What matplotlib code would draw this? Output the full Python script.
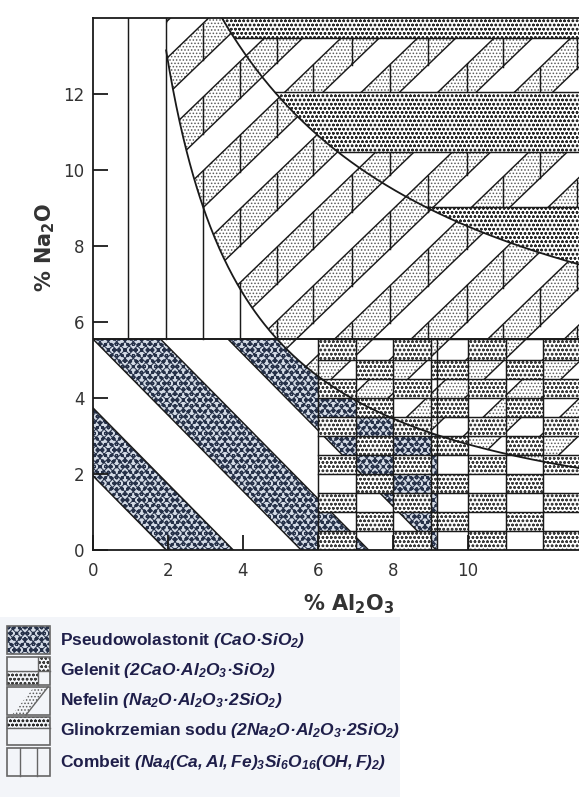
import numpy as np
import matplotlib
matplotlib.use("Agg")
import matplotlib.pyplot as plt
from matplotlib.patches import Polygon, Rectangle, PathPatch
from matplotlib.path import Path

plt.rcParams["font.family"] = ["DejaVu Sans"]
plt.rcParams["hatch.linewidth"] = 0.7
plt.rcParams["mathtext.fontset"] = "custom"
plt.rcParams["mathtext.rm"] = "Liberation Sans:bold:italic"
plt.rcParams["mathtext.it"] = "Liberation Sans:bold:italic"
plt.rcParams["mathtext.bf"] = "DejaVu Sans:bold"

# ---- values ----
x_ticks = [0, 2, 4, 6, 8, 10]
y_ticks = [0, 2, 4, 6, 8, 10, 12]
x_max, y_max = 12.96, 14.0

na2o_split = 5.55                      # horizontal boundary upper / lower field
hyp_a, hyp_b = 28.4, 0.21              # combeit | nefelin curve  y = a/(x+b)
combeit_edge = 1.95                    # nefelin field starts here near the top
gli_a, gli_b, gli_c = 70.0, 3.0, 3.13  # nefelin | glinokrzemian curve  y = c + a/(x+b)

combeit_x = [0.93, 1.95, 2.93, 3.92, 4.90, 5.87, 6.90, 7.92, 8.93, 9.97, 10.93, 11.92, 12.90]
gli_dotted = [(13.47, 14.0), (10.47, 12.05), (0.0, 9.03)]

pseudo_bands = [(1.95, 3.74), (5.55, 7.35)]   # limits of Al2O3 + Na2O
pseudo_last = 9.15                            # lower edge of 3rd band (upper edge = curve)
pseudo_lines = [1.95, 3.74, 5.55, 7.35, 9.15]
gelenit_cut = 9.17                            # extra vertical line in the grid

gelenit_x = [6, 7, 8, 9, 10, 11, 12, 13]
gelenit_y = [0, 0.5, 1.0, 1.5, 2.0, 2.5, 3.0, 3.5, 4.0, 4.5, 5.0, 5.55]

# nefelin hatch (diagonal bands)
nef_slope, nef_b0, nef_step = 0.95, 0.40, 0.97

legend_names = ["Pseudowolastonit ", "Gelenit ", "Nefelin ",
                "Glinokrzemian sodu ", "Combeit "]
legend_formulas = [r"$(CaO·SiO_2)$",
                   r"$(2CaO·Al_2O_3·SiO_2)$",
                   r"$(Na_2O·Al_2O_3·2SiO_2)$",
                   r"$(2Na_2O·Al_2O_3·2SiO_2)$",
                   r"$(Na_4(Ca,Al,Fe)_3Si_6O_{16}(OH,F)_2)$"]

ink = "#1a1a1a"
dot_light = "#5a5a5a"
dot_dark = "#2a2a2a"
gel_dot = "#3c3c3c"
pseudo_face = "#d3dae5"
pseudo_hatch = "#253048"
pseudo_pat = "xxxxooo"
lw_line = 1.05


def hyp(x):
    return hyp_a / (x + hyp_b)


def hyp_x(y):
    return np.maximum(combeit_edge, hyp_a / y - hyp_b)


def gli(x):
    return gli_c + gli_a / (x + gli_b)


W, H = 579, 797
fig = plt.figure(figsize=(W / 100, H / 100), dpi=100)
ax = fig.add_axes([93 / W, (H - 550) / H, (W - 93) / W, 532 / H])
ax.set_xlim(0, x_max)
ax.set_ylim(0, y_max)
ax.spines["right"].set_visible(False)
for s in ["left", "top", "bottom"]:
    ax.spines[s].set_linewidth(1.3)
    ax.spines[s].set_color(ink)
    ax.spines[s].set_zorder(6)

# ---------- upper field ----------
ys = np.linspace(na2o_split, y_max + 0.5, 300)
r_poly = np.vstack([np.column_stack([hyp_x(ys), ys]),
                    [[x_max + 1, y_max + 0.5], [x_max + 1, na2o_split]]])
r_clip = Polygon(r_poly, closed=True, transform=ax.transData, fill=False, lw=0)

xx = np.array([-1.0, x_max + 1])
ks = np.arange(-16, 17)
for k in ks:
    b0 = nef_b0 + k * nef_step
    b1 = b0 + nef_step
    if k % 2 == 0:
        band = Polygon([[xx[0], nef_slope * xx[0] + b0], [xx[1], nef_slope * xx[1] + b0],
                        [xx[1], nef_slope * xx[1] + b1], [xx[0], nef_slope * xx[0] + b1]],
                       facecolor="none", edgecolor=dot_light, hatch=".....", lw=0, zorder=1)
        ax.add_patch(band)
        band.set_clip_path(r_clip)
        for vx in combeit_x:
            ln, = ax.plot([vx, vx], [nef_slope * vx + b0, nef_slope * vx + b1],
                          color=ink, lw=lw_line, zorder=2)
            ln.set_clip_path(r_clip)
    ln, = ax.plot(xx, nef_slope * xx + b0, color=ink, lw=lw_line, zorder=2)
    ln.set_clip_path(r_clip)

# combeit vertical lines
for vx in combeit_x:
    top = y_max if vx <= combeit_edge else min(y_max, hyp(vx))
    if top > na2o_split:
        ax.plot([vx, vx], [na2o_split, top], color=ink, lw=lw_line, zorder=2)

# glinokrzemian sodu bands
x_top = gli_a / (y_max + 0.5 - gli_c) - gli_b
xs_g = np.linspace(x_top, x_max + 1, 300)
s_poly = np.vstack([np.column_stack([xs_g, gli(xs_g)]),
                    [[x_max + 1, y_max + 0.5], [x_top, y_max + 0.5]]])
s_clip = Polygon(s_poly, closed=True, transform=ax.transData, fill=False, lw=0)
for lo, hi in gli_dotted:
    rect = Rectangle((-1, lo), x_max + 2, hi - lo, facecolor="white",
                     edgecolor=dot_dark, hatch="oooo", lw=0, zorder=3)
    ax.add_patch(rect)
    rect.set_clip_path(s_clip)
    for yb in (lo, hi):
        if 0 < yb < y_max:
            ln, = ax.plot([-1, x_max + 1], [yb, yb], color=ink, lw=lw_line, zorder=3.5)
            ln.set_clip_path(s_clip)
xs_c = np.linspace(x_top, x_max + 1, 300)
ax.plot(xs_c, gli(xs_c), color=ink, lw=1.3, zorder=4)

# ---------- lower field ----------
verts, codes = [], []


def add_rect(x0, y0, x1, y1):
    verts.extend([(x0, y0), (x1, y0), (x1, y1), (x0, y1), (x0, y0)])
    codes.extend([Path.MOVETO, Path.LINETO, Path.LINETO, Path.LINETO, Path.CLOSEPOLY])


add_rect(0, 0, gelenit_x[0], na2o_split)
for i in range(len(gelenit_x) - 1):
    for j in range(len(gelenit_y) - 1):
        x0, x1 = gelenit_x[i], gelenit_x[i + 1]
        y0, y1 = gelenit_y[j], gelenit_y[j + 1]
        if (i + j) % 2 == 0:
            ax.add_patch(Rectangle((x0, y0), x1 - x0, y1 - y0, facecolor="white",
                                   edgecolor=gel_dot, hatch="oooo", lw=0, zorder=1))
        else:
            add_rect(x0, y0, x1, y1)
open_clip = PathPatch(Path(verts, codes), transform=ax.transData, fill=False, lw=0)

# pseudowolastonit bands
for lo, hi in pseudo_bands:
    p = Polygon([[lo, 0], [hi, 0], [hi - na2o_split, na2o_split], [lo - na2o_split, na2o_split]],
                facecolor=pseudo_face, edgecolor=pseudo_hatch, hatch=pseudo_pat, lw=0, zorder=1)
    ax.add_patch(p)
    p.set_clip_path(open_clip)
xh = np.linspace(gelenit_cut, hyp_a / na2o_split - hyp_b, 120)
p3 = np.vstack([[[pseudo_last - na2o_split, na2o_split], [pseudo_last, 0], [gelenit_cut, 0]],
                np.column_stack([xh, hyp(xh)])])
p = Polygon(p3, facecolor=pseudo_face, edgecolor=pseudo_hatch, hatch=pseudo_pat, lw=0, zorder=1)
ax.add_patch(p)
p.set_clip_path(open_clip)

for c in pseudo_lines:
    ln, = ax.plot([c - na2o_split, c], [na2o_split, 0], color=ink, lw=lw_line, zorder=2.5)
    ln.set_clip_path(open_clip)

# nefelin overlay in the open cells above the curve
xs_l = np.linspace(4.0, x_max + 1, 600)
h_l = hyp(xs_l)
for k in ks:
    b0 = nef_b0 + k * nef_step
    b1 = b0 + nef_step
    if k % 2 == 0:
        lo = np.maximum(nef_slope * xs_l + b0, h_l)
        hi = np.minimum(nef_slope * xs_l + b1, na2o_split)
        if np.any(hi > lo):
            coll = ax.fill_between(xs_l, lo, hi, where=hi > lo, facecolor="none",
                                   edgecolor=dot_light, hatch=".....", lw=0, zorder=1)
            coll.set_clip_path(open_clip)
    yl = nef_slope * xs_l + b0
    yl = np.where((yl >= h_l) & (yl <= na2o_split), yl, np.nan)
    ln, = ax.plot(xs_l, yl, color=ink, lw=lw_line, zorder=2)
    ln.set_clip_path(open_clip)

# gelenit grid
for gx in gelenit_x:
    ax.plot([gx, gx], [0, na2o_split], color=ink, lw=lw_line, zorder=2.5)
ax.plot([gelenit_cut, gelenit_cut], [0, na2o_split], color=ink, lw=lw_line, zorder=2.5)
for gy in gelenit_y:
    ax.plot([gelenit_x[0], x_max], [gy, gy], color=ink, lw=lw_line, zorder=2.5)

# main boundaries
xs_h = np.linspace(combeit_edge, x_max + 1, 400)
ax.plot(xs_h, hyp(xs_h), color=ink, lw=1.3, zorder=4)
ax.plot([0, x_max], [na2o_split, na2o_split], color=ink, lw=1.4, zorder=4)

# ticks and labels
ax.set_axisbelow(False)
ax.set_xticks(x_ticks)
ax.set_yticks(y_ticks)
ax.tick_params(direction="in", length=11, width=1.3, color=ink, labelsize=12,
               labelcolor="#333333")
ax.tick_params(axis="x", pad=9)
ax.tick_params(axis="y", pad=6)
fig.text(45 / W, 1 - 247 / H, r"% Na$_\mathbf{2}$O", rotation=90, ha="center", va="center",
         fontsize=15, fontweight="bold", color="#333333")
fig.text(349 / W, 1 - 604 / H, r"% Al$_\mathbf{2}$O$_\mathbf{3}$", ha="center", va="center",
         fontsize=15, fontweight="bold", color="#333333")

# ---------- legend ----------
lax = fig.add_axes([0, 0, 400 / W, 180 / H])
lax.set_xlim(0, 400)
lax.set_ylim(797, 617)
lax.set_facecolor("#f3f5f9")
lax.set_xticks([])
lax.set_yticks([])
for s in lax.spines.values():
    s.set_visible(False)

row_y = [640, 671, 701, 731, 762]
bx0, bx1, bh = 7, 50, 28
box_edge = "#666666"
for n, yc in enumerate(row_y):
    y0, y1 = yc - bh / 2, yc + bh / 2
    if n == 0:
        lax.add_patch(Rectangle((bx0, y0), bx1 - bx0, bh, facecolor=pseudo_face,
                                edgecolor=pseudo_hatch, hatch=pseudo_pat, lw=0))
    elif n == 1:
        xm, ymid = 38, yc
        lax.add_patch(Rectangle((xm, y0), bx1 - xm, ymid - y0, facecolor="none",
                                edgecolor=gel_dot, hatch="oooo", lw=0))
        lax.add_patch(Rectangle((bx0, ymid), xm - bx0, y1 - ymid, facecolor="none",
                                edgecolor=gel_dot, hatch="oooo", lw=0))
        lax.plot([xm, xm], [y0, y1], color=box_edge, lw=1)
        lax.plot([bx0, bx1], [ymid, ymid], color=box_edge, lw=1)
    elif n == 2:
        lax.add_patch(Polygon([[12, y1], [26, y1], [48, y0], [34, y0]], facecolor="none",
                              edgecolor=dot_light, hatch=".....", lw=0))
        lax.plot([26, 48], [y1, y0], color=box_edge, lw=1)
    elif n == 3:
        ymid = y0 + 0.4 * bh
        lax.add_patch(Rectangle((bx0, y0), bx1 - bx0, ymid - y0, facecolor="none",
                                edgecolor=dot_dark, hatch="oooo", lw=0))
        lax.plot([bx0, bx1], [ymid, ymid], color=box_edge, lw=1)
    else:
        for vx in (20, 37):
            lax.plot([vx, vx], [y0, y1], color=box_edge, lw=1)
    lax.add_patch(Rectangle((bx0, y0), bx1 - bx0, bh, facecolor="none",
                            edgecolor=box_edge, lw=1.2))
    lax.text(60, yc, legend_names[n] + legend_formulas[n], ha="left", va="center",
             fontsize=12.5, fontweight="bold", family=["Liberation Sans", "DejaVu Sans"],
             color="#1f1f4a")

fig.savefig("out.png", dpi=100)
